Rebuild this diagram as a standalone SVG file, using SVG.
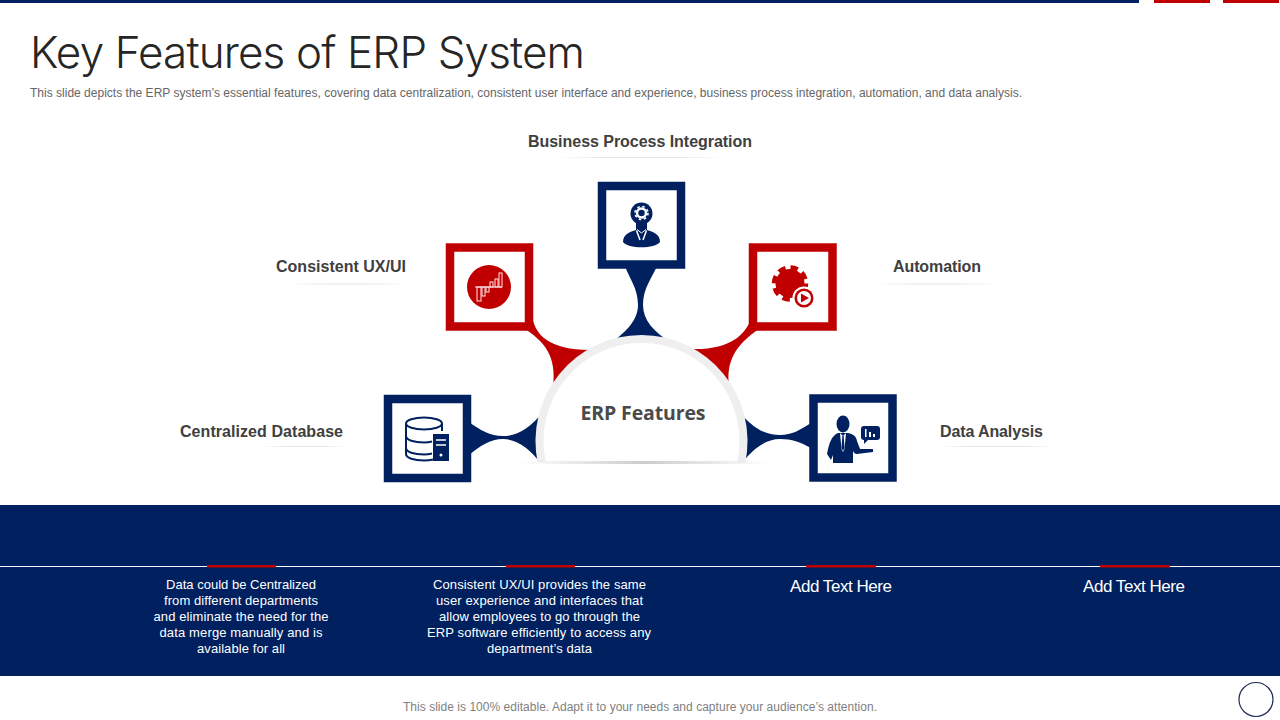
<svg xmlns="http://www.w3.org/2000/svg" width="1280" height="720" viewBox="0 0 1280 720">
<style>
.navy{fill:#002060}.red{fill:#c00000}.wht{fill:#fff}
.frameN{fill:#fff;stroke:#002060;stroke-width:8.5}
.frameR{fill:#fff;stroke:#c00000;stroke-width:8.5}
.lab{font-family:"Liberation Sans",Arial,sans-serif;font-weight:700;font-size:16px;fill:#404040}
.body{font-family:"Liberation Sans",Arial,sans-serif;font-size:13px;fill:#fff;text-anchor:middle}
.add{font-family:"Liberation Sans",Arial,sans-serif;font-size:17px;fill:#fff;text-anchor:middle}
.note{font-family:"Liberation Sans",Arial,sans-serif;font-size:12px}
</style>
<defs>
<linearGradient id="fade"><stop offset="0" stop-color="#e4e4e4" stop-opacity="0"/><stop offset=".3" stop-color="#e4e4e4"/><stop offset=".7" stop-color="#e4e4e4"/><stop offset="1" stop-color="#e4e4e4" stop-opacity="0"/></linearGradient>
<linearGradient id="shade"><stop offset="0" stop-color="#ccc" stop-opacity="0"/><stop offset=".5" stop-color="#ccc"/><stop offset="1" stop-color="#ccc" stop-opacity="0"/></linearGradient>
</defs>
<rect width="1280" height="720" fill="#fff"/>
<g id="header">
<rect x="0" y="0" width="1139" height="3" class="navy"/>
<rect x="1154" y="0" width="56" height="3" class="red"/>
<rect x="1223" y="0" width="56" height="3" class="red"/>
<text x="30" y="68" font-family="Inter,Lato,sans-serif" font-weight="300" font-size="44" fill="#262626" textLength="555">Key Features of ERP System</text>
<text x="30" y="97" class="note" fill="#666" textLength="992">This slide depicts the ERP system’s essential features, covering data centralization, consistent user interface and experience, business process integration, automation, and data analysis.</text>
</g>
<g id="connectors">
<path class="navy" d="M625 266 C629 278 638 288 638 305 C638 320 626 332 612 342 L670 342 C654 332 643 320 643 305 C643 288 652 278 657 266Z"/>
<path class="red" d="M532 313 C533 335 550 350 590 350 L553 388 C556 362 550 345 525 329Z"/>
<path class="red" d="M751 319 C745 335 730 350 692 349 L729 386 C726 362 735 345 759 329Z"/>
<path class="navy" d="M469 422 C480 430 490 436 503 436 C518 436 530 428 545 410 L545 462 L540 462 C530 450 518 439 503 439 C490 439 480 446 469 455Z"/>
<path class="navy" d="M811 423 C800 430 792 435 780 435 C765 435 752 428 738 410 L738 462 L743 462 C752 450 765 439 780 439 C792 439 800 442 811 448Z"/>
</g>
<g id="center-erp">
<path d="M537.6 462 A106 106 0 1 1 745.4 462Z" fill="#efefef"/>
<path d="M545.8 462 A98 98 0 1 1 737.2 462Z" fill="#fff"/>
<rect x="520" y="461" width="250" height="3" fill="url(#shade)"/>
<text x="643" y="420" font-family="'Open Sans',Lato,sans-serif" font-weight="700" font-size="19.500" fill="#4a4a4a" text-anchor="middle" textLength="125">ERP Features</text>
</g>
<g id="node-business">
<rect x="602" y="186" width="79" height="78.500" class="frameN"/>
<circle cx="641.500" cy="213.500" r="11" class="navy"/>
<path class="navy" d="M636 222 H647 V230 C653 232 660 234 660 242 C655 249 628 249 623 242 C623 234 630 232 636 230Z"/>
<path d="M636.500 230.500 L640 240 M646.500 230.500 L643 240" stroke="#fff" stroke-width="1.500" fill="none"/>
<path d="M637 229.500 L641.500 233 L646 229.500" stroke="#fff" stroke-width="1" fill="none"/>
<circle cx="641.500" cy="213" r="4.500" fill="none" stroke="#fff" stroke-width="2.500"/>
<circle cx="641.500" cy="213" r="6.500" fill="none" stroke="#fff" stroke-width="1.600" stroke-dasharray="2.500 2.600"/>
<text x="640" y="147" class="lab" text-anchor="middle" textLength="224">Business Process Integration</text>
<rect x="555" y="157" width="170" height="1" fill="url(#fade)"/>
</g>
<g id="node-consistent">
<rect x="450" y="247.500" width="79" height="79" class="frameR"/>
<circle cx="489" cy="287" r="22" class="red"/>
<path d="M475 287H502" stroke="#ffe5e5" stroke-width="1"/>
<g fill="none" stroke="#ffe5e5" stroke-width="1">
<rect x="490" y="282" width="3" height="5"/><rect x="495" y="279" width="3" height="8"/><rect x="499" y="273" width="3" height="14"/>
<rect x="477" y="287" width="4" height="14"/><rect x="482" y="287" width="3" height="9"/><rect x="486" y="287" width="3" height="5"/>
</g>
<text x="341" y="272" class="lab" text-anchor="middle" textLength="130">Consistent UX/UI</text>
<rect x="288" y="283.500" width="120" height="1" fill="url(#fade)"/>
</g>
<g id="node-automation">
<rect x="753" y="247.500" width="79.500" height="79" class="frameR"/>
<circle cx="790" cy="283.500" r="14.500" class="red"/>
<circle cx="790" cy="283.500" r="16" fill="none" stroke="#c00000" stroke-width="4.500" stroke-dasharray="7.500 5.070"/>
<circle cx="804" cy="298" r="11.500" class="wht"/>
<circle cx="804" cy="298" r="9.500" class="red"/>
<circle cx="804" cy="298" r="7" class="wht"/>
<path class="red" d="M801 293.500 L809 298 L801 302.500Z"/>
<text x="937" y="272" class="lab" text-anchor="middle" textLength="88">Automation</text>
<rect x="877" y="283.500" width="120" height="1" fill="url(#fade)"/>
</g>
<g id="node-centralized">
<rect x="388" y="399" width="79" height="79" class="frameN"/>
<g fill="none" stroke="#002060" stroke-width="2">
<ellipse cx="424" cy="423.500" rx="18" ry="6"/>
<path d="M406 423.500V454C406 458 414 460.500 424 460.500C428 460.500 431 460 433 459.500"/>
<path d="M442 423.500V431"/>
<path d="M406 436C406 440 414 442.500 424 442.500C427 442.500 430 442 432 441.500"/>
<path d="M406 448C406 452 414 454.500 424 454.500C427 454.500 430 454 432 453.500"/>
</g>
<rect x="433" y="434" width="16" height="27" class="navy"/>
<path d="M436 440H446M436 445H446" stroke="#fff" stroke-width="1.500"/>
<circle cx="441" cy="455" r="1.500" class="wht"/>
<text x="261.500" y="437" class="lab" text-anchor="middle" textLength="163">Centralized Database</text>
<rect x="262" y="446" width="85" height="1" fill="url(#fade)"/>
</g>
<g id="node-data">
<rect x="813.500" y="398.500" width="79" height="79" class="frameN"/>
<ellipse cx="843" cy="424" rx="6.500" ry="8.500" class="navy"/>
<path class="navy" d="M838 433 L848 433 C853 434 856 436 857 441 L860 449 L873 449 L873 452 L857 454 C855 454 854 453 853 451 L853 463 L833 463 L833 455 L831 460 L827 454 C829 444 831 436 838 433Z"/>
<path class="wht" d="M840 433 L843 436 L846 433 L844.500 449 L843 452 L841.500 449Z"/>
<path class="navy" d="M842.300 436 H843.700 L844.500 448 L843 451 L841.500 448Z"/>
<rect x="861" y="426" width="19" height="14" rx="3" class="navy"/>
<path class="navy" d="M864 439 L864 444 L869 439Z"/>
<path d="M865 429V437H866.500V429ZM869 432V437H871V432ZM873 434V437H875V434Z" class="wht"/>
<text x="991.500" y="437" class="lab" text-anchor="middle" textLength="103">Data Analysis</text>
<rect x="938" y="446" width="118" height="1" fill="url(#fade)"/>
</g>
<g id="band">
<rect x="0" y="505" width="1280" height="171" class="navy"/>
<rect x="0" y="566" width="1280" height="1" class="wht"/>
<rect x="207" y="565" width="69" height="2.500" class="red"/>
<rect x="506" y="565" width="69" height="2.500" class="red"/>
<rect x="806" y="565" width="70" height="2.500" class="red"/>
<rect x="1100" y="565" width="70" height="2.500" class="red"/>
<text x="241" y="589" class="body" textLength="150">Data could be Centralized</text>
<text x="241" y="605" class="body" textLength="154">from different departments</text>
<text x="241" y="621" class="body" textLength="175">and eliminate the need for the</text>
<text x="241" y="637" class="body" textLength="163">data merge manually and is</text>
<text x="241" y="653" class="body" textLength="88">available for all</text>
<text x="539.500" y="589" class="body" textLength="213">Consistent UX/UI provides the same</text>
<text x="539.500" y="605" class="body" textLength="207">user experience and interfaces that</text>
<text x="539.500" y="621" class="body" textLength="201">allow employees to go through the</text>
<text x="539" y="637" class="body" textLength="224">ERP software efficiently to access any</text>
<text x="539.500" y="653" class="body" textLength="105">department’s data</text>
<text x="841" y="592" class="add" textLength="102">Add Text Here</text>
<text x="1134" y="592" class="add" textLength="102">Add Text Here</text>
</g>
<g id="footer">
<text x="640" y="711" class="note" fill="#7f7f7f" text-anchor="middle" textLength="474">This slide is 100% editable. Adapt it to your needs and capture your audience’s attention.</text>
<circle cx="1256" cy="699.500" r="17" fill="#fff" stroke="#1f2a55" stroke-width="1.200"/>
</g>
</svg>
